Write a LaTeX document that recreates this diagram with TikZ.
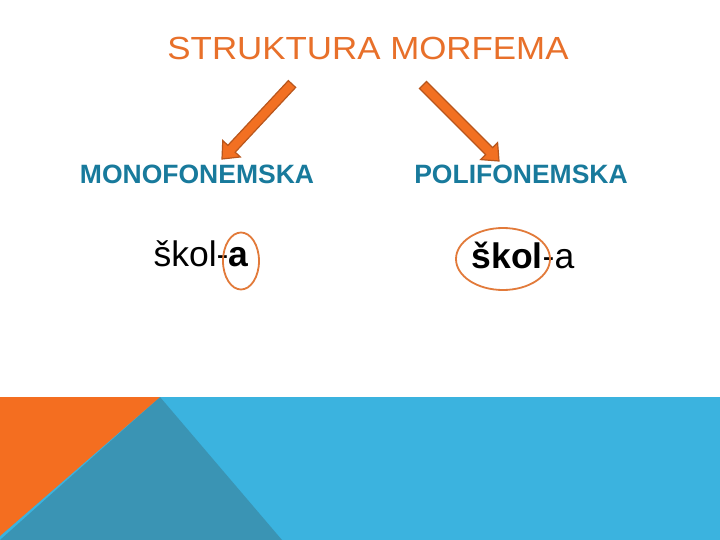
\documentclass[tikz,border=0pt]{standalone}
\usepackage{fontspec}
\setmainfont{Liberation Sans}
\newfontfamily\titlefont{Liberation Sans}[FakeStretch=1.09]
\usetikzlibrary{calc}
\definecolor{titleorange}{RGB}{232,112,42}
\definecolor{headblue}{RGB}{24,122,156}
\definecolor{arrowfill}{RGB}{242,112,34}
\definecolor{arrowline}{RGB}{184,86,28}
\definecolor{ringc}{RGB}{226,122,58}
\definecolor{bandblue}{RGB}{59,179,223}
\definecolor{bandteal}{RGB}{58,148,180}
\definecolor{bandorange}{RGB}{244,110,32}
\tikzset{
  title/.style={inner sep=0pt, anchor=base, text=titleorange, font=\titlefont\fontsize{32}{36}\selectfont},
  head/.style={inner sep=0pt, anchor=base, text=headblue, font=\fontsize{26.5}{30}\selectfont\bfseries},
  word/.style={inner sep=0pt, anchor=base, text=black, font=\fontsize{35.5}{40}\selectfont},
  ring/.style={draw=ringc, line width=1.8pt},
  blockarrow/.style={fill=arrowfill, draw=arrowline, line width=1.2pt, line join=miter},
}
\newcommand{\blockarrow}[2]{%
  \coordinate (hb) at ($(#2)!14pt!(#1)$);
  \draw[blockarrow] ($(#1)!5pt!90:(#2)$) -- ($(hb)!5pt!90:(#2)$) -- ($(hb)!12pt!90:(#2)$) -- (#2)
     -- ($(hb)!12pt!-90:(#2)$) -- ($(hb)!5pt!-90:(#2)$) -- ($(#1)!5pt!-90:(#2)$) -- cycle;
}
\begin{document}
\begin{tikzpicture}[x=1pt,y=-1pt]
\useasboundingbox (0,0) rectangle (720,540);
\fill[white] (0,0) rectangle (720,540);
% bottom band
\fill[bandblue] (0,397) rectangle (720,540);
\fill[bandteal] (160,397) -- (0,540) -- (282,540) -- cycle;
\fill[bandorange] (0,397) -- (160,397) -- (0,536) -- cycle;
% texts
\node[title] (t) at (368,60) {STRUKTURA MORFEMA};
\node[head] (mono) at (197,184) {MONOFONEMSKA};
\node[head] (poli) at (521,184) {POLIFONEMSKA};
\node[word] (w1) at (201,266) {škol-\textbf{a}};
\node[word] (w2) at (523,268) {\textbf{škol}-a};
% arrows
\coordinate (lt) at (292,84);
\coordinate (lh) at (222,159);
\coordinate (rt) at (423,85);
\coordinate (rh) at (499,161);
\blockarrow{lt}{lh}
\blockarrow{rt}{rh}
% rings
\draw[ring] (241,261) ellipse [x radius=18, y radius=28.5];
\draw[ring] (503,259) ellipse [x radius=47, y radius=31];
\end{tikzpicture}
\end{document}
